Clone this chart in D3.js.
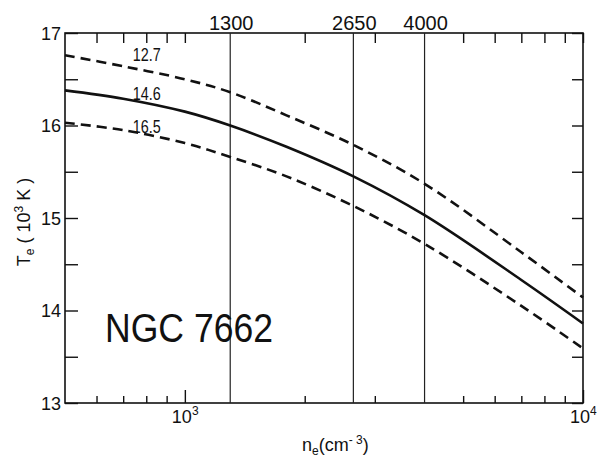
<!DOCTYPE html>
<html><head><meta charset="utf-8">
<script src="https://cdn.jsdelivr.net/npm/d3@7"></script>
<style>body{margin:0;background:#fff}svg{display:block}text{font-family:"Liberation Sans",Arial,sans-serif;fill:#111}</style>
</head><body>
<script>
const densities = [500, 700, 1000, 1300, 1800, 2650, 4000, 7000, 10000];
const te127 = [16.76, 16.64, 16.50, 16.36, 16.11, 15.79, 15.37, 14.63, 14.14];
const te146 = [16.38, 16.29, 16.15, 16.00, 15.77, 15.45, 15.03, 14.33, 13.86];
const te165 = [16.03, 15.95, 15.81, 15.66, 15.45, 15.13, 14.72, 14.05, 13.59];
const seriesNames = ["12.7", "14.6", "16.5"];
const seriesDashed = [true, false, true];
const labelN = 740;
const labelT = [16.70, 16.28, 15.92];
const markerN = [1300, 2650, 4000];
const yMajor = [13, 14, 15, 16, 17];
const yMinor = [13.5, 14.5, 15.5, 16.5];
const xMinor = [600, 700, 800, 900, 2000, 3000, 5000, 6000, 7000, 8000, 9000];
const xMajor = [1000, 10000];
const xMajorExp = ["3", "4"];

const W = 600, H = 457;
const L = 65, R = 583, T = 33, B = 403;
const svg = d3.select("body").append("svg").attr("width", W).attr("height", H);
const x = d3.scaleLog().domain([500, 10000]).range([L, R]);
const y = d3.scaleLinear().domain([13, 17]).range([B, T]);

// frame
svg.append("rect").attr("x", L).attr("y", T).attr("width", R - L).attr("height", B - T)
  .attr("fill", "none").attr("stroke", "#111").attr("stroke-width", 1.6);

// axes ticks via d3 axes
const tk = (sel) => { sel.select(".domain").remove(); sel.selectAll("line").attr("stroke", "#111").attr("stroke-width", 1.4); sel.selectAll("text").remove(); };
svg.append("g").attr("transform", `translate(${L},0)`).call(d3.axisRight(y).tickValues(yMajor.concat(yMinor)).tickSize(13)).call(tk);
svg.append("g").attr("transform", `translate(${R},0)`).call(d3.axisLeft(y).tickValues(yMajor.concat(yMinor)).tickSize(11)).call(tk);
svg.append("g").attr("transform", `translate(0,${T})`).call(d3.axisBottom(x).tickValues(xMinor.concat(xMajor)).tickSize(10)).call(tk);
svg.append("g").attr("transform", `translate(0,${B})`).call(d3.axisTop(x).tickValues(xMinor).tickSize(7)).call(tk);
svg.append("g").attr("transform", `translate(0,${B})`).call(d3.axisTop(x).tickValues(xMajor).tickSize(13)).call(tk);

// y labels
svg.selectAll(".yl").data(yMajor).enter().append("text")
  .attr("x", 61).attr("y", d => y(d) + 6.5).attr("text-anchor", "end")
  .attr("font-size", 18).text(d => d);

// x labels 10^n
xMajor.forEach((v, i) => {
  const t = svg.append("text").attr("x", x(v) - 13).attr("y", 423).attr("font-size", 18);
  t.append("tspan").text("10");
  t.append("tspan").attr("dy", -8).attr("font-size", 12).text(xMajorExp[i]);
});

// axis titles
const xt = svg.append("text").attr("x", 302).attr("y", 451).attr("font-size", 18);
xt.append("tspan").text("n");
xt.append("tspan").attr("dy", 4).attr("font-size", 12).text("e");
xt.append("tspan").attr("dy", -4).text("(cm");
xt.append("tspan").attr("dy", -7).attr("font-size", 12).text("- 3");
xt.append("tspan").attr("dy", 7).text(")");

const yt = svg.append("text").attr("transform", "translate(30,222) rotate(-90)")
  .attr("text-anchor", "middle").attr("font-size", 18);
yt.append("tspan").text("T");
yt.append("tspan").attr("dy", 4).attr("font-size", 12).text("e");
yt.append("tspan").attr("dy", -4).text(" ( 10");
yt.append("tspan").attr("dy", -7).attr("font-size", 12).text("3");
yt.append("tspan").attr("dy", 7).text(" K )");

// vertical marker lines
svg.selectAll(".vl").data(markerN).enter().append("line")
  .attr("x1", d => x(d)).attr("x2", d => x(d)).attr("y1", T).attr("y2", B)
  .attr("stroke", "#222").attr("stroke-width", 1.2);
svg.selectAll(".vt").data(markerN).enter().append("text")
  .attr("x", d => x(d) + 1).attr("y", 30).attr("text-anchor", "middle")
  .attr("font-size", 20).text(d => d);

// curves
const series = [te127, te146, te165];
const line = d3.line().x((d, i) => x(densities[i])).y(d => y(d)).curve(d3.curveCatmullRom.alpha(0.5));
series.forEach((s, i) => {
  svg.append("path").attr("d", line(s)).attr("fill", "none").attr("stroke", "#111")
    .attr("stroke-width", 2.6).attr("stroke-dasharray", seriesDashed[i] ? "10,6" : null);
  svg.append("text").attr("x", x(labelN)).attr("y", y(labelT[i])).attr("font-size", 18)
    .attr("textLength", 28).attr("lengthAdjust", "spacingAndGlyphs").text(seriesNames[i]);
});

// title
svg.append("text").attr("x", 105).attr("y", 342).attr("font-size", 40)
  .attr("textLength", 168).attr("lengthAdjust", "spacingAndGlyphs").text("NGC 7662");
</script>
</body></html>
